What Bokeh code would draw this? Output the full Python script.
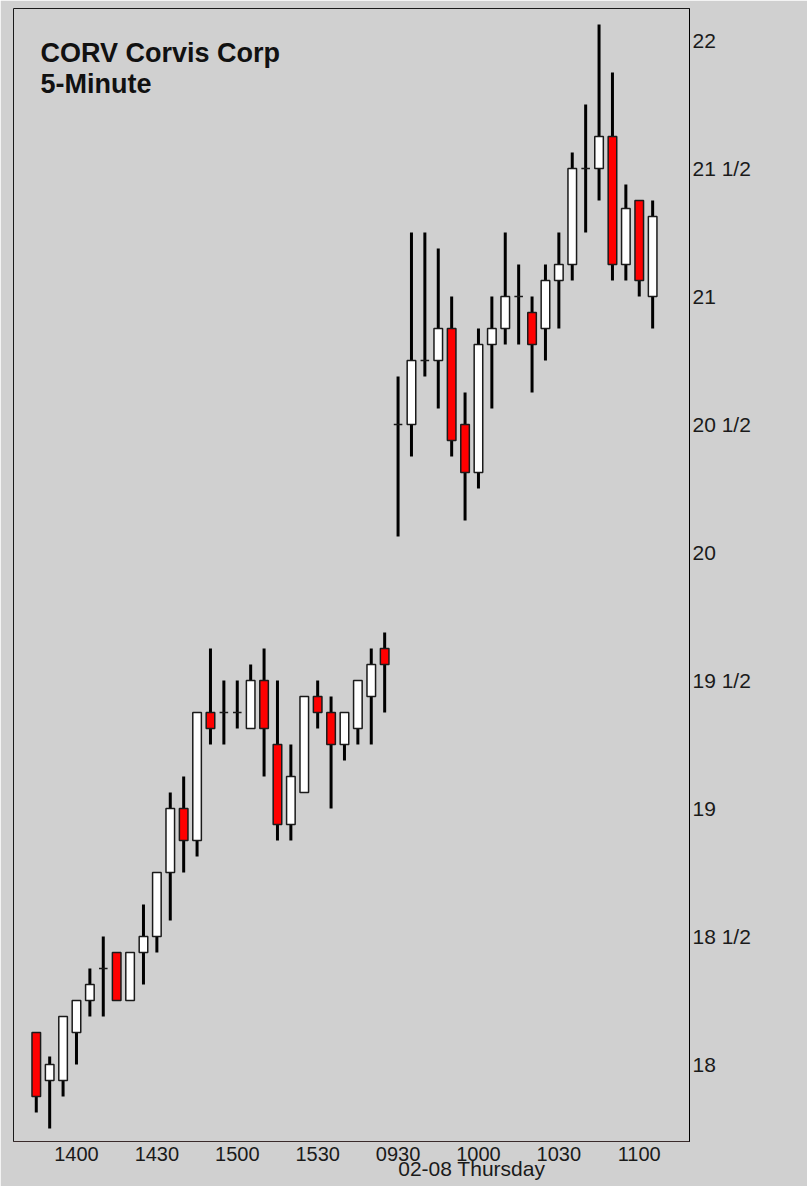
from bokeh.plotting import figure
from bokeh.models import FixedTicker, Label, LinearAxis, Range1d
from bokeh.embed import file_html
from bokeh.resources import INLINE

# ---------------- data ----------------
times = ["1345", "1350", "1355", "1400", "1405", "1410", "1415", "1420", "1425",
         "1430", "1435", "1440", "1445", "1450", "1455", "1500", "1505", "1510",
         "1515", "1520", "1525", "1530", "1535", "1540", "1545", "1550", "1555",
         "0930", "0935", "0940", "0945", "0950", "0955", "1000", "1005", "1010",
         "1015", "1020", "1025", "1030", "1035", "1040", "1045", "1050", "1055",
         "1100", "1105"]
opens = [18.125, 17.9375, 17.9375, 18.125, 18.25, 18.375, 18.4375, 18.25, 18.4375,
         18.5, 18.75, 19.0, 18.875, 19.375, 19.375, 19.375, 19.3125, 19.5,
         19.25, 18.9375, 19.0625, 19.4375, 19.375, 19.25, 19.3125, 19.4375, 19.625,
         20.5, 20.5, 20.75, 20.75, 20.875, 20.5, 20.3125, 20.8125, 20.875,
         21.0, 20.9375, 20.875, 21.0625, 21.125, 21.5, 21.5, 21.625, 21.125,
         21.375, 21.0]
highs = [18.125, 18.03125, 18.1875, 18.25, 18.375, 18.5, 18.4375, 18.4375, 18.625,
         18.75, 19.0625, 19.125, 19.375, 19.625, 19.5, 19.5, 19.5625, 19.625,
         19.5, 19.25, 19.4375, 19.5, 19.4375, 19.375, 19.5, 19.625, 19.6875,
         20.6875, 21.25, 21.25, 21.1875, 21.0, 20.625, 20.875, 21.0, 21.25,
         21.125, 21.0, 21.125, 21.25, 21.5625, 21.75, 22.0625, 21.875, 21.4375,
         21.375, 21.375]
lows = [17.8125, 17.75, 17.875, 18.0, 18.1875, 18.1875, 18.25, 18.25, 18.3125,
        18.4375, 18.5625, 18.75, 18.8125, 19.25, 19.25, 19.3125, 19.3125, 19.125,
        18.875, 18.875, 19.0625, 19.3125, 19.0, 19.1875, 19.25, 19.25, 19.375,
        20.0625, 20.375, 20.6875, 20.5625, 20.375, 20.125, 20.25, 20.5625, 20.8125,
        20.8125, 20.625, 20.75, 20.875, 21.0625, 21.25, 21.375, 21.0625, 21.0625,
        21.0, 20.875]
closes = [17.875, 18.0, 18.1875, 18.25, 18.3125, 18.375, 18.25, 18.4375, 18.5,
          18.75, 19.0, 18.875, 19.375, 19.3125, 19.375, 19.375, 19.5, 19.3125,
          18.9375, 19.125, 19.4375, 19.375, 19.25, 19.375, 19.5, 19.5625, 19.5625,
          20.5, 20.75, 20.75, 20.875, 20.4375, 20.3125, 20.8125, 20.875, 21.0,
          21.0, 20.8125, 21.0625, 21.125, 21.5, 21.5, 21.625, 21.125, 21.34375,
          21.0625, 21.3125]

price_ticks = [18.0, 18.5, 19.0, 19.5, 20.0, 20.5, 21.0, 21.5, 22.0]
price_labels = ["18", "18 1/2", "19", "19 1/2", "20", "20 1/2", "21", "21 1/2", "22"]
session_label = "02-08 Thursday"
title_lines = ["CORV Corvis Corp", "5-Minute"]

# ---------------- derived ----------------
idx = list(range(len(times)))
tops = [max(o, c) for o, c in zip(opens, closes)]
bottoms = [min(o, c) for o, c in zip(opens, closes)]
fills = ["#ff0000" if c < o else "#ffffff" for o, c in zip(opens, closes)]
time_ticks = [i for i, t in enumerate(times) if t[2:] in ("00", "30")]

BG = "#d0d0d0"
FONT = "Liberation Sans"
W, H = 807, 1186
FL, FT, FW, FH = 13, 8, 676, 1133      # frame left/top/width/height in pixels

x_start, x_end = -1.70, 48.75
y_start, y_end = 17.6992, 22.125

p = figure(width=W, height=H, output_backend="svg", toolbar_location=None,
           title=None, x_range=Range1d(x_start, x_end), y_range=Range1d(y_start, y_end),
           y_axis_location="right", min_border_left=FL, min_border_right=W - FL - FW,
           min_border_top=FT, min_border_bottom=H - FT - FH)

p.background_fill_color = BG
p.border_fill_color = BG
p.outline_line_color = "#1a1a1a"
p.grid.visible = False

# wicks then bodies
p.segment(x0=idx, y0=lows, x1=idx, y1=highs, line_width=3, line_color="black")
p.vbar(x=idx, width=0.64, top=tops, bottom=bottoms, fill_color=fills,
       line_color="#1a1a1a", line_width=1.5)

# right price axis
ya = p.yaxis[0]
ya.ticker = FixedTicker(ticks=price_ticks)
ya.major_label_overrides = dict(zip(price_ticks, price_labels))
ya.major_tick_out = 0
ya.major_tick_in = 0
ya.minor_tick_out = 0
ya.minor_tick_in = 0
ya.major_label_standoff = 3
ya.axis_line_color = "black"
ya.major_label_text_font = FONT
ya.major_label_text_font_size = "21px"
ya.major_label_text_color = "#1a1a1a"

# bottom time axis
xa = p.xaxis[0]
xa.ticker = FixedTicker(ticks=time_ticks)
xa.major_label_overrides = {i: times[i] for i in time_ticks}
xa.major_tick_out = 0
xa.major_tick_in = 0
xa.minor_tick_out = 0
xa.minor_tick_in = 0
xa.major_label_standoff = 5
xa.axis_line_color = "#3a2a2a"
xa.major_label_text_font = FONT
xa.major_label_text_font_size = "20px"
xa.major_label_text_color = "#1a1a1a"

# session date axis: label starts at the first bar of the second session
day2 = times.index("0930")
half_label_bars = 5.5     # half the label's width, in bar spacings
date_tick = day2 + half_label_bars
da = LinearAxis(ticker=FixedTicker(ticks=[date_tick]),
                major_label_overrides={date_tick: session_label},
                axis_line_color=None, major_tick_out=0, major_tick_in=0,
                minor_tick_out=0, minor_tick_in=0, major_label_standoff=-7,
                major_label_text_font=FONT, major_label_text_font_size="21px",
                major_label_text_color="#1a1a1a")
p.add_layout(da, "below")

# title text inside chart
p.add_layout(Label(x=27, y=FH - 29, x_units="screen", y_units="screen", text=title_lines[0],
                   text_font=FONT, text_font_size="27px", text_font_style="bold",
                   text_baseline="top", text_color="#111111"))
p.add_layout(Label(x=27, y=FH - 60, x_units="screen", y_units="screen", text=title_lines[1],
                   text_font=FONT, text_font_size="27px", text_font_style="bold",
                   text_baseline="top", text_color="#111111"))

open("out.html", "w").write(file_html(p, INLINE))
